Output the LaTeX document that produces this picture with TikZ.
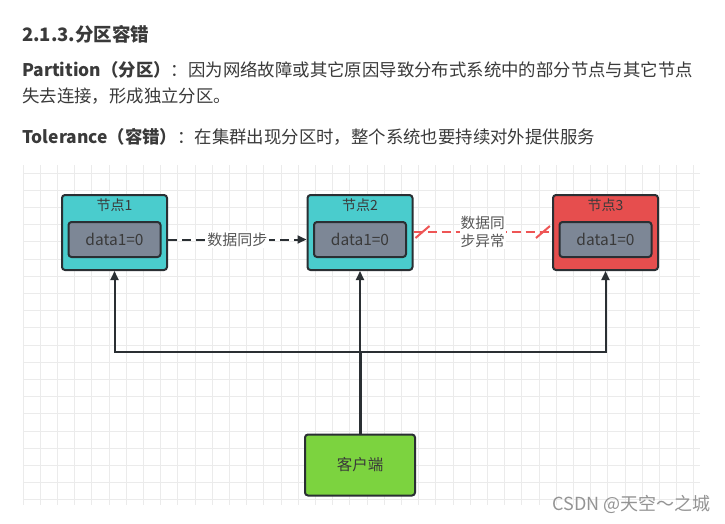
\documentclass[tikz,border=0pt]{standalone}
\usepackage{fontspec}
\setmainfont{Noto Sans CJK SC}
\usetikzlibrary{arrows.meta,calc}
\definecolor{txt}{HTML}{3A3A3A}
\definecolor{gridc}{HTML}{EBEBEB}
\definecolor{cyanf}{HTML}{4ACCCD}
\definecolor{redf}{HTML}{E64E4E}
\definecolor{grayf}{HTML}{7D8796}
\definecolor{greenf}{HTML}{7CD33F}
\definecolor{edge}{HTML}{2A2F33}
\definecolor{lbl}{HTML}{555555}
\definecolor{redl}{HTML}{EE5555}
\begin{document}
\begin{tikzpicture}[x=1pt,y=-1pt,
  outerbox/.style={draw=edge,line width=2pt,rounded corners=3pt,minimum width=105pt,minimum height=75pt,inner sep=0pt},
  innerbox/.style={draw=edge,line width=2pt,rounded corners=3pt,fill=grayf,minimum width=92pt,minimum height=35pt,inner sep=0pt,font=\fontsize{15.5}{17}\selectfont,text=txt},
  ttl/.style={font=\fontsize{14}{16}\selectfont,text=txt,inner sep=0pt},
  conn/.style={draw=edge,line width=2pt},
  upar/.style={conn,-{Triangle[length=9pt,width=8pt]}},
  para/.style={anchor=base west,inner sep=0pt,text=txt,font=\fontsize{17.4}{19}\selectfont}
]
\useasboundingbox (0,0) rectangle (725,523);
\fill[white] (0,0) rectangle (725,523);
% grid
\foreach \i in {0,...,39} {\draw[gridc,line width=1pt] (23+17.2*\i,165) -- (23+17.2*\i,505);}
\foreach \j in {0,...,19} {\draw[gridc,line width=1pt] (23,173+17.2*\j) -- (700,173+17.2*\j);}
% text
\node[para,font=\fontsize{18.5}{20}\selectfont\bfseries] (h) at (22,41) {2.1.3.分区容错};
\node[para] (p1) at (22,76) {\textbf{Partition（分区）}：因为网络故障或其它原因导致分布式系统中的部分节点与其它节点};
\node[para] (p2) at (22,102) {失去连接，形成独立分区。};
\node[para] (p3) at (22,143) {\textbf{Tolerance（容错）}：在集群出现分区时，整个系统也要持续对外提供服务};
% nodes
\node[outerbox,fill=cyanf] (n1) at (114.5,232.5) {};
\node[outerbox,fill=cyanf] (n2) at (360,232.5) {};
\node[outerbox,fill=redf] (n3) at (605.5,232.5) {};
\node[ttl] (t1) at (114.5,205) {节点1};
\node[ttl] (t2) at (360,205) {节点2};
\node[ttl] (t3) at (605.5,205) {节点3};
\node[innerbox] (d1) at (114.5,239.5) {data1=0};
\node[innerbox] (d2) at (360,239.5) {data1=0};
\node[innerbox] (d3) at (605.5,239.5) {data1=0};
\node[draw=edge,line width=2pt,rounded corners=3pt,fill=greenf,minimum width=110pt,minimum height=61pt,inner sep=0pt,font=\fontsize{15.5}{17}\selectfont,text=txt] (cl) at (360,465) {客户端};
% sync arrow
\draw[edge,line width=2pt,dash pattern=on 9pt off 5pt,-{Triangle[length=9pt,width=8pt]}] (n1.east |- d1.center) -- node[fill=white,inner sep=2pt,font=\fontsize{15}{17}\selectfont,text=lbl] (s1) {数据同步} (n2.west |- d2.center);
% broken sync
\coordinate (a) at (n2.east |- 0,232);
\coordinate (b) at (n3.west |- 0,232);
\draw[redl,line width=2pt,dash pattern=on 9pt off 5pt] (a) -- node[fill=white,inner sep=1pt,align=left,font=\fontsize{14.7}{18}\selectfont,text=lbl] (s2) {数据同\\步异常} (b);
\draw[redl,line width=2pt] ($(a)+(2,6)$) -- ($(a)+(16,-6)$);
\draw[redl,line width=2pt] ($(b)+(-16,6)$) -- ($(b)+(-2,-6)$);
% client connections
\coordinate (j) at (360,352);
\draw[conn,line width=3pt] (cl.north) -- (j);
\draw[upar] (j) -| (n1.south);
\draw[upar] (j) -| (n3.south);
\draw[upar] (j) -- (n2.south);
% watermark
\node[anchor=base east,inner sep=0pt,text=black!42,font=\fontsize{18}{20}\selectfont] (wm) at (711,510) {CSDN @天空～之城};
\end{tikzpicture}
\end{document}
